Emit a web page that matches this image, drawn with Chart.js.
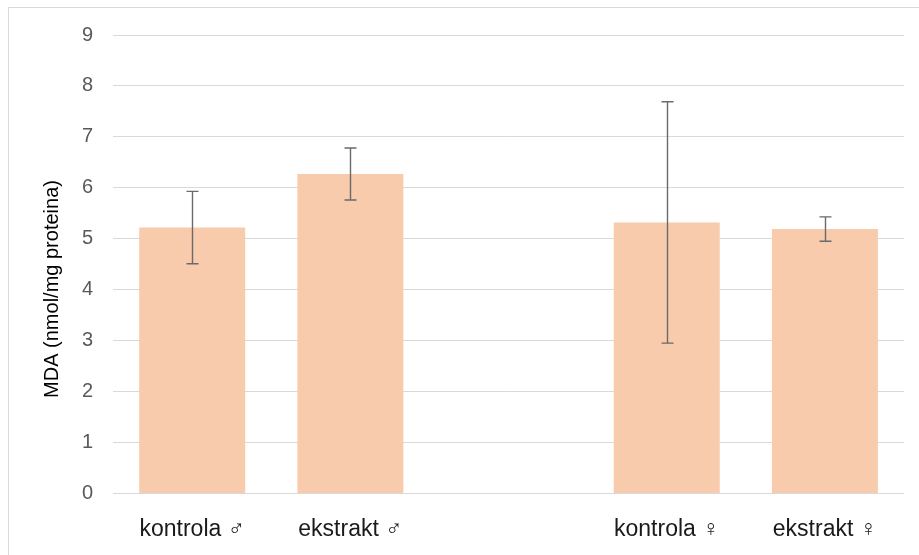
<!DOCTYPE html>
<html>
<head>
<meta charset="utf-8">
<script src="https://cdn.jsdelivr.net/npm/chart.js@4"></script>
<style>
  html, body { margin: 0; padding: 0; background: #fff; overflow: hidden; }
  #frame { position: absolute; left: 8px; top: 7px; width: 940px; height: 600px; border: 1px solid #d9d9d9; }
  #wrap { position: absolute; left: 0; top: 0; width: 919px; height: 555px; }
</style>
</head>
<body>
<div id="frame"></div>
<div id="wrap"><canvas id="mdaChart"></canvas></div>
<script>
// Podaci
const categories = ['kontrola ♂', 'ekstrakt ♂', '', 'kontrola ♀', 'ekstrakt ♀'];
const mdaValues = [5.22, 6.27, null, 5.32, 5.19];
const mdaErrors = [0.71, 0.51, null, 2.37, 0.24];
const yTicks = [0, 1, 2, 3, 4, 5, 6, 7, 8, 9];
const yTitle = 'MDA (nmol/mg proteina)';

const fontFamily = "'Liberation Sans', 'DejaVu Sans', sans-serif";

// error bars + y title, drawn through the scales
const errorBars = {
    id: 'errorBars',
    afterDatasetsDraw(chart) {
        const ctx = chart.ctx;
        const yScale = chart.scales.y;
        const meta = chart.getDatasetMeta(0);
        ctx.save();
        ctx.strokeStyle = '#6a6a6a';
        ctx.lineWidth = 1.4;
        meta.data.forEach((bar, i) => {
            const v = mdaValues[i];
            const e = mdaErrors[i];
            if (v == null || e == null) return;
            const x = Math.round(bar.x) + 0.5;
            const yTop = yScale.getPixelForValue(v + e);
            const yBot = yScale.getPixelForValue(v - e);
            ctx.beginPath();
            ctx.moveTo(x, yTop); ctx.lineTo(x, yBot);
            ctx.moveTo(x - 6, yTop); ctx.lineTo(x + 6, yTop);
            ctx.moveTo(x - 6, yBot); ctx.lineTo(x + 6, yBot);
            ctx.stroke();
        });
        ctx.restore();
    },
    afterDraw(chart) {
        const ctx = chart.ctx;
        ctx.save();
        ctx.translate(52, 289);
        ctx.rotate(-Math.PI / 2);
        ctx.fillStyle = '#000';
        ctx.font = '20px ' + fontFamily;
        ctx.textAlign = 'center';
        ctx.textBaseline = 'middle';
        ctx.fillText(yTitle, 0, 0);
        ctx.restore();
    }
};

const chartCanvas = document.getElementById('mdaChart');
if (chartCanvas) {
    const ctx = chartCanvas.getContext('2d');
    new Chart(ctx, {
        type: 'bar',
        data: {
            labels: categories,
            datasets: [{
                data: mdaValues,
                backgroundColor: '#f8cbad',
                categoryPercentage: 1.0,
                barPercentage: 0.67
            }]
        },
        options: {
            responsive: true,
            maintainAspectRatio: false,
            animation: false,
            layout: { padding: { left: 62, right: 15, top: 35, bottom: -10 } },
            plugins: {
                legend: { display: false },
                tooltip: { enabled: false }
            },
            scales: {
                x: {
                    grid: { display: false, drawTicks: false },
                    border: { display: false },
                    ticks: {
                        color: '#1a1a1a',
                        padding: 22,
                        font: { family: fontFamily, size: 23 }
                    }
                },
                y: {
                    min: 0,
                    max: 9,
                    afterBuildTicks(axis) { axis.ticks = yTicks.map(v => ({ value: v })); },
                    grid: { color: '#d9d9d9', drawTicks: false },
                    border: { display: false },
                    ticks: {
                        color: '#595959',
                        padding: 20,
                        font: { family: fontFamily, size: 20 }
                    }
                }
            }
        },
        plugins: [errorBars]
    });
}
</script>
</body>
</html>
